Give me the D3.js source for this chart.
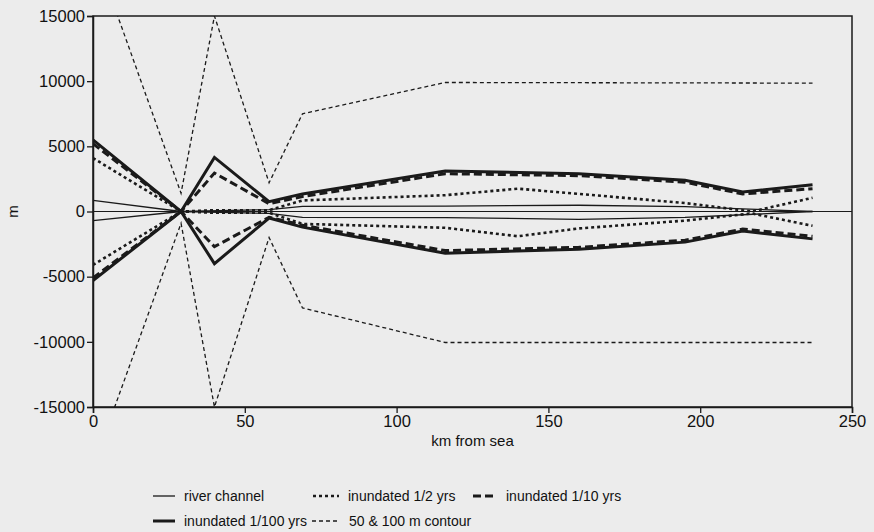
<!DOCTYPE html>
<html>
<head>
<meta charset="utf-8">
<script src="https://cdn.jsdelivr.net/npm/d3@7"></script>
<style>
  body { margin: 0; background: #ececec; }
  svg { display: block; background: #ececec; }
  text { font-family: "Liberation Sans", Arial, sans-serif; fill: #111; }
</style>
</head>
<body>
<svg width="874" height="532"></svg>
<script>
// distances (km from sea) and half-widths (m)
const kmFlood = [0, 29, 40, 58, 69, 116, 160, 195, 214, 237];
const flood100Up = [5500, 0, 4150, 750, 1350, 3100, 2900, 2400, 1500, 2050];
const flood100Down = [-5300, 0, -4000, -500, -1200, -3200, -2900, -2350, -1500, -2100];
const flood10Up = [5200, 0, 2950, 600, 1150, 2900, 2750, 2250, 1350, 1750];
const flood10Down = [-5100, 0, -2700, -450, -1050, -3000, -2750, -2200, -1350, -1900];

const kmHalf = [0, 29, 40, 58, 69, 116, 140, 160, 195, 217, 237];
const halfUp = [4100, 0, 100, 100, 850, 1250, 1750, 1350, 650, 0, 1050];
const halfDown = [-4100, 0, -100, -100, -950, -1250, -1900, -1300, -700, -150, -1100];

const kmChannel = [0, 29, 58, 69, 116, 160, 195, 214, 237];
const channelUp = [850, 0, 150, 400, 420, 480, 380, 200, 0];
const channelDown = [-700, 0, -150, -450, -470, -600, -450, -250, 0];

const kmContour = [0, 29, 40, 58, 69, 116, 237];
const contourUp = [20300, 1400, 15000, 2200, 7500, 9900, 9850];
const contourDown = [-19600, -900, -15000, -2000, -7400, -10050, -10050];

const xTicks = [0, 50, 100, 150, 200, 250];
const yTicks = [-15000, -10000, -5000, 0, 5000, 10000, 15000];

const legendLabels = ["river channel", "inundated 1/2 yrs", "inundated 1/10 yrs",
                      "inundated 1/100 yrs", "50 & 100 m contour"];

const margin = { top: 16, right: 22, bottom: 125, left: 93 };
const width = 874, height = 532;
const innerWidth = width - margin.left - margin.right;
const innerHeight = height - margin.top - margin.bottom;
const ink = "#1a1a1a";

const svg = d3.select("svg");
const g = svg.append("g").attr("transform", `translate(${margin.left},${margin.top})`);

const x = d3.scaleLinear().domain([0, 250]).range([0, innerWidth]);
const y = d3.scaleLinear().domain([-15000, 15000]).range([innerHeight, 0]);

// line styles
const styles = {
  channel: { w: 1.3, dash: null },
  half: { w: 2.6, dash: "3,3" },
  ten: { w: 3, dash: "8,4" },
  hundred: { w: 3, dash: null },
  contour: { w: 1.3, dash: "4,3" }
};

g.append("clipPath").attr("id", "clip")
  .append("rect").attr("width", innerWidth).attr("height", innerHeight);

const plot = g.append("g").attr("clip-path", "url(#clip)");

// zero line across the plot
plot.append("line")
  .attr("x1", 0).attr("x2", innerWidth)
  .attr("y1", y(0)).attr("y2", y(0))
  .attr("stroke", ink).attr("stroke-width", 1.2);

const line = d3.line().x(d => x(d[0])).y(d => y(d[1]));

function drawSeries(km, vals, st) {
  plot.append("path")
    .datum(km.map((k, i) => [k, vals[i]]))
    .attr("d", line)
    .attr("fill", "none")
    .attr("stroke", ink)
    .attr("stroke-width", st.w)
    .attr("stroke-linejoin", "miter")
    .attr("stroke-dasharray", st.dash);
}

drawSeries(kmContour, contourUp, styles.contour);
drawSeries(kmContour, contourDown, styles.contour);
drawSeries(kmChannel, channelUp, styles.channel);
drawSeries(kmChannel, channelDown, styles.channel);
drawSeries(kmHalf, halfUp, styles.half);
drawSeries(kmHalf, halfDown, styles.half);
drawSeries(kmFlood, flood100Up, styles.hundred);
drawSeries(kmFlood, flood100Down, styles.hundred);
drawSeries(kmFlood, flood10Up, styles.ten);
drawSeries(kmFlood, flood10Down, styles.ten);

// frame
g.append("rect")
  .attr("width", innerWidth).attr("height", innerHeight)
  .attr("fill", "none").attr("stroke", ink).attr("stroke-width", 1.5);

// axes (plain hyphen for negatives, as in the original)
const fmt = d => String(d);
const xAxis = g.append("g")
  .attr("transform", `translate(0,${innerHeight})`)
  .call(d3.axisBottom(x).tickValues(xTicks).tickSize(6).tickPadding(2).tickFormat(fmt));
const yAxis = g.append("g")
  .call(d3.axisLeft(y).tickValues(yTicks).tickSize(6).tickPadding(2).tickFormat(fmt));

[[xAxis, "middle"], [yAxis, "end"]].forEach(([a, anchor]) => {
  a.attr("fill", "#111")
    .attr("font-size", 16.5)
    .attr("font-family", "'Liberation Sans', Arial, sans-serif");
  a.select(".domain").attr("fill", "none").attr("stroke", ink).attr("stroke-width", 1.5);
  a.selectAll(".tick line").attr("stroke", ink).attr("stroke-width", 1.3);
  a.selectAll(".tick text")
    .attr("fill", "#111")
    .attr("text-anchor", anchor)
    .attr("font-size", 16.5);
});

// axis titles
svg.append("text")
  .attr("x", margin.left + x(125)).attr("y", 446)
  .attr("text-anchor", "middle")
  .attr("font-size", 15)
  .text("km from sea");

svg.append("text")
  .attr("transform", `translate(18,${margin.top + y(0)}) rotate(-90)`)
  .attr("text-anchor", "middle")
  .attr("font-size", 15)
  .text("m");

// legend
const legendItems = [
  { label: legendLabels[0], st: styles.channel, x: 153, y: 496, len: 22 },
  { label: legendLabels[1], st: styles.half, x: 313, y: 496, len: 26 },
  { label: legendLabels[2], st: styles.ten, x: 473, y: 496, len: 24 },
  { label: legendLabels[3], st: styles.hundred, x: 153, y: 521, len: 22 },
  { label: legendLabels[4], st: styles.contour, x: 312, y: 521, len: 28 }
];

const legend = svg.append("g");
legendItems.forEach(it => {
  legend.append("line")
    .attr("x1", it.x).attr("x2", it.x + it.len)
    .attr("y1", it.y).attr("y2", it.y)
    .attr("stroke", ink)
    .attr("stroke-width", it.st.w)
    .attr("stroke-dasharray", it.st.dash);
  legend.append("text")
    .attr("x", it.x + it.len + 9).attr("y", it.y)
    .attr("dy", "0.35em")
    .attr("font-size", 14)
    .text(it.label);
});
</script>
</body>
</html>
